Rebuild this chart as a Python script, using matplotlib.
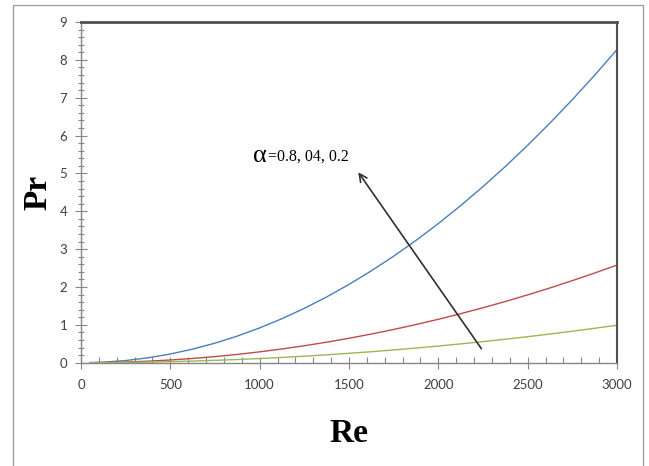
import matplotlib
matplotlib.use("Agg")
import matplotlib.pyplot as plt
import matplotlib.patches as mpatches
from matplotlib.ticker import MultipleLocator

# data
re_vals = [50, 125, 250, 375, 500, 625, 750, 875, 1000, 1125, 1250, 1375, 1500,
           1625, 1750, 1875, 2000, 2125, 2250, 2375, 2500, 2625, 2750, 2875, 3000]
pr_a08 = [0.002, 0.014, 0.057, 0.129, 0.23, 0.359, 0.517, 0.703, 0.919, 1.163, 1.436, 1.737, 2.068,
          2.427, 2.814, 3.23, 3.676, 4.15, 4.652, 5.183, 5.743, 6.332, 6.949, 7.595, 8.27]
pr_a04 = [0.001, 0.0045, 0.018, 0.040, 0.072, 0.112, 0.161, 0.219, 0.287, 0.363, 0.448, 0.542, 0.645,
          0.757, 0.878, 1.008, 1.147, 1.295, 1.451, 1.617, 1.792, 1.975, 2.168, 2.369, 2.58]
pr_a02 = [0.0, 0.0017, 0.0069, 0.0155, 0.0275, 0.043, 0.062, 0.084, 0.11, 0.139, 0.172, 0.208, 0.248,
          0.29, 0.337, 0.387, 0.44, 0.497, 0.557, 0.62, 0.687, 0.758, 0.832, 0.909, 0.99]

fig = plt.figure(figsize=(6.49, 4.66), dpi=100)
ax = fig.add_axes([81/649, 1 - 362.7/466, (617-81)/649, (362.7-22)/466])

ax.plot(re_vals, pr_a08, color='#4A7EBB', lw=1.0)
ax.plot(re_vals, pr_a04, color='#BE4B48', lw=1.0)
ax.plot(re_vals, pr_a02, color='#98B954', lw=1.0)

ax.set_xlim(0, 3000)
ax.set_ylim(0, 9)
ax.xaxis.set_major_locator(MultipleLocator(500))
ax.xaxis.set_minor_locator(MultipleLocator(100))
ax.yaxis.set_major_locator(MultipleLocator(1))
ax.yaxis.set_minor_locator(MultipleLocator(0.2))

for s in ['left', 'bottom']:
    ax.spines[s].set_color('#868686')
    ax.spines[s].set_linewidth(1.0)
ax.spines['top'].set_color('#505050')
ax.spines['top'].set_linewidth(2.0)
ax.spines['right'].set_color('#505050')
ax.spines['right'].set_linewidth(1.5)

ax.tick_params(axis='both', which='major', direction='inout', length=8, width=0.8,
               color='#868686', labelsize=9.5, labelcolor='#404040')
ax.tick_params(axis='x', which='major', pad=8)
ax.tick_params(axis='y', which='major', pad=6)
ax.tick_params(axis='x', which='minor', direction='in', length=4, width=0.8, color='#868686')
ax.tick_params(axis='y', which='minor', direction='inout', length=4, width=0.8, color='#868686')
for lab in ax.get_xticklabels() + ax.get_yticklabels():
    lab.set_family('Lato')

ax.set_xlabel('Re', family='Liberation Serif', fontweight='bold', fontsize=24, labelpad=19)
ax.set_ylabel('Pr', family='Liberation Serif', fontweight='bold', fontsize=24, labelpad=4)

ax.annotate('', xy=(1543, 5.09), xytext=(2250, 0.31),
            arrowprops=dict(arrowstyle='->', color='#303030', lw=1.2, mutation_scale=14))
ax.text(960, 5.47, 'α', family='Liberation Serif', fontsize=19, ha='left', va='center')
ax.text(1045, 5.44, '=0.8, 04, 0.2', family='Liberation Serif', fontsize=11.5,
        ha='left', va='center')

# outer chart border
fig.patches.append(mpatches.Rectangle((13/649, -0.02), (643-13)/649, 1 - 5/466 + 0.02,
                                      transform=fig.transFigure, fill=False,
                                      edgecolor='#A0A0A0', lw=1.0, clip_on=False))

fig.savefig('out.png', dpi=100)
